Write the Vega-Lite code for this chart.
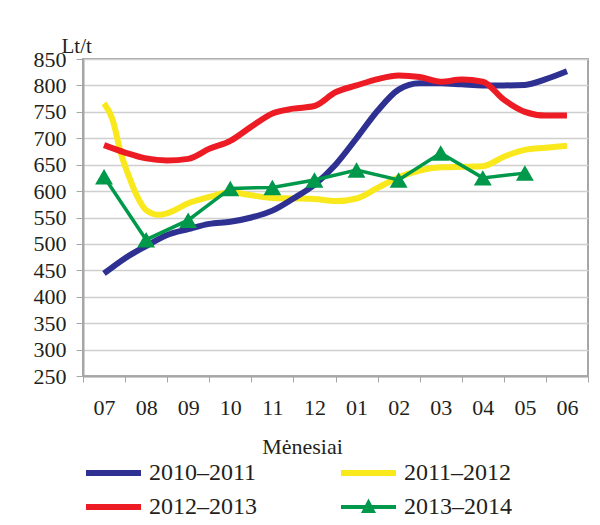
{
  "$schema": "https://vega.github.io/schema/vega-lite/v6.json",
  "width": 505,
  "height": 317,
  "autosize": {"type": "none"},
  "padding": {"left": 83, "top": 59, "right": 12, "bottom": 149},
  "background": "white",
  "config": {
    "font": "Liberation Serif",
    "view": {"stroke": "#a6a6a6", "strokeWidth": 2},
    "style": {"guide-label": {"font": "Liberation Serif"}, "guide-title": {"font": "Liberation Serif"}},
    "legend": {"labelFont": "Liberation Serif", "labelColor": "#231f20"}
  },
  "data": {"values": [
    {"s": "2010–2011", "m": 1, "v": 444}, {"s": "2010–2011", "m": 1.5, "v": 473}, {"s": "2010–2011", "m": 2, "v": 496}, {"s": "2010–2011", "m": 2.5, "v": 517},
    {"s": "2010–2011", "m": 3, "v": 528}, {"s": "2010–2011", "m": 3.5, "v": 538}, {"s": "2010–2011", "m": 4, "v": 542}, {"s": "2010–2011", "m": 4.5, "v": 550},
    {"s": "2010–2011", "m": 5, "v": 563}, {"s": "2010–2011", "m": 5.5, "v": 586}, {"s": "2010–2011", "m": 6, "v": 612}, {"s": "2010–2011", "m": 6.5, "v": 650},
    {"s": "2010–2011", "m": 7, "v": 700}, {"s": "2010–2011", "m": 7.5, "v": 752}, {"s": "2010–2011", "m": 8, "v": 792}, {"s": "2010–2011", "m": 8.5, "v": 804},
    {"s": "2010–2011", "m": 9, "v": 804}, {"s": "2010–2011", "m": 9.5, "v": 802}, {"s": "2010–2011", "m": 10, "v": 800}, {"s": "2010–2011", "m": 10.5, "v": 800},
    {"s": "2010–2011", "m": 11, "v": 801}, {"s": "2010–2011", "m": 11.5, "v": 812}, {"s": "2010–2011", "m": 12, "v": 827},
    {"s": "2011–2012", "m": 1, "v": 766}, {"s": "2011–2012", "m": 1.2, "v": 736}, {"s": "2011–2012", "m": 1.4, "v": 672}, {"s": "2011–2012", "m": 1.6, "v": 626},
    {"s": "2011–2012", "m": 1.8, "v": 588}, {"s": "2011–2012", "m": 2, "v": 564}, {"s": "2011–2012", "m": 2.3, "v": 555}, {"s": "2011–2012", "m": 2.6, "v": 561},
    {"s": "2011–2012", "m": 3, "v": 577}, {"s": "2011–2012", "m": 3.5, "v": 589}, {"s": "2011–2012", "m": 4, "v": 598}, {"s": "2011–2012", "m": 4.5, "v": 592},
    {"s": "2011–2012", "m": 5, "v": 587}, {"s": "2011–2012", "m": 5.5, "v": 586}, {"s": "2011–2012", "m": 6, "v": 585}, {"s": "2011–2012", "m": 6.5, "v": 581},
    {"s": "2011–2012", "m": 7, "v": 586}, {"s": "2011–2012", "m": 7.5, "v": 606}, {"s": "2011–2012", "m": 8, "v": 626}, {"s": "2011–2012", "m": 8.5, "v": 639},
    {"s": "2011–2012", "m": 9, "v": 645}, {"s": "2011–2012", "m": 9.5, "v": 646}, {"s": "2011–2012", "m": 10, "v": 647}, {"s": "2011–2012", "m": 10.5, "v": 665},
    {"s": "2011–2012", "m": 11, "v": 678}, {"s": "2011–2012", "m": 11.5, "v": 682}, {"s": "2011–2012", "m": 12, "v": 686},
    {"s": "2012–2013", "m": 1, "v": 687}, {"s": "2012–2013", "m": 1.5, "v": 673}, {"s": "2012–2013", "m": 2, "v": 662}, {"s": "2012–2013", "m": 2.5, "v": 658},
    {"s": "2012–2013", "m": 3, "v": 661}, {"s": "2012–2013", "m": 3.5, "v": 680}, {"s": "2012–2013", "m": 4, "v": 695}, {"s": "2012–2013", "m": 4.5, "v": 722},
    {"s": "2012–2013", "m": 5, "v": 747}, {"s": "2012–2013", "m": 5.5, "v": 756}, {"s": "2012–2013", "m": 6, "v": 761}, {"s": "2012–2013", "m": 6.5, "v": 787},
    {"s": "2012–2013", "m": 7, "v": 800}, {"s": "2012–2013", "m": 7.5, "v": 812}, {"s": "2012–2013", "m": 8, "v": 819}, {"s": "2012–2013", "m": 8.5, "v": 816},
    {"s": "2012–2013", "m": 9, "v": 807}, {"s": "2012–2013", "m": 9.5, "v": 811}, {"s": "2012–2013", "m": 10, "v": 807}, {"s": "2012–2013", "m": 10.5, "v": 773},
    {"s": "2012–2013", "m": 11, "v": 750}, {"s": "2012–2013", "m": 11.5, "v": 743}, {"s": "2012–2013", "m": 12, "v": 743},
    {"s": "2013–2014", "m": 1, "v": 627}, {"s": "2013–2014", "m": 2, "v": 508}, {"s": "2013–2014", "m": 3, "v": 545}, {"s": "2013–2014", "m": 4, "v": 605},
    {"s": "2013–2014", "m": 5, "v": 607}, {"s": "2013–2014", "m": 6, "v": 621}, {"s": "2013–2014", "m": 7, "v": 640}, {"s": "2013–2014", "m": 8, "v": 621},
    {"s": "2013–2014", "m": 9, "v": 672}, {"s": "2013–2014", "m": 10, "v": 625}, {"s": "2013–2014", "m": 11, "v": 634}
  ]},
  "encoding": {
    "x": {
      "field": "m", "type": "quantitative",
      "scale": {"domain": [0.5, 12.5], "nice": false, "zero": false},
      "axis": {
        "title": "Mėnesiai", "titleFont": "Liberation Serif", "titleFontWeight": "normal", "titleColor": "#231f20", "titleFontSize": 22,
        "titleAnchor": "start", "titleAlign": "center", "titleX": 219, "titleY": 77, "titleBaseline": "alphabetic",
        "values": [0.5, 1, 1.5, 2, 2.5, 3, 3.5, 4, 4.5, 5, 5.5, 6, 6.5, 7, 7.5, 8, 8.5, 9, 9.5, 10, 10.5, 11, 11.5, 12, 12.5],
        "labelExpr": "datum.value % 1 === 0 ? ['07','08','09','10','11','12','01','02','03','04','05','06'][datum.value - 1] : ''",
        "labelFont": "Liberation Serif", "labelColor": "#231f20", "labelFontSize": 22, "labelPadding": 15, "labelOverlap": false, "labelFlush": false,
        "grid": false, "domainColor": "#a6a6a6", "domainWidth": 2, "tickColor": "#a6a6a6", "tickSize": 6,
        "tickOpacity": {"condition": {"test": "datum.value % 1 === 0", "value": 0}, "value": 1}
      }
    },
    "y": {
      "field": "v", "type": "quantitative",
      "scale": {"domain": [250, 850], "nice": false, "zero": false},
      "axis": {
        "title": "Lt/t", "titleFont": "Liberation Serif", "titleFontWeight": "normal", "titleColor": "#231f20", "titleFontSize": 21,
        "titleAngle": 0, "titleAlign": "left", "titleBaseline": "alphabetic", "titleX": -22, "titleY": -7,
        "values": [250, 300, 350, 400, 450, 500, 550, 600, 650, 700, 750, 800, 850],
        "labelFont": "Liberation Serif", "labelColor": "#231f20", "labelFontSize": 22, "labelPadding": 10, "labelBaseline": "middle",
        "grid": true, "gridColor": "#cfcfcf", "gridWidth": 1.5,
        "domainColor": "#a6a6a6", "domainWidth": 2, "tickColor": "#a6a6a6", "tickSize": 7
      }
    },
    "color": {
      "field": "s", "type": "nominal",
      "scale": {"domain": ["2010–2011", "2011–2012", "2012–2013", "2013–2014"], "range": ["#2e3192", "#f9e81c", "#ed1c24", "#00984a"]},
      "legend": {
        "title": null, "orient": "none", "direction": "horizontal", "legendX": 1, "legendY": 402, "columns": 2, "columnPadding": 82, "rowPadding": 10,
        "padding": 0, "labelFont": "Liberation Serif", "labelFontSize": 24, "labelOffset": 41, "symbolSize": 400, "labelLimit": 300,
        "encode": {"symbols": {"update": {
          "shape": {"signal": "datum.value === '2013–2014' ? 'M-1,-0.2H4.5V0.2H-1Z M1.75,-0.85L2.5,0.6L1,0.6Z' : 'M-1,-0.3H4.5V0.3H-1Z'"},
          "fill": {"signal": "scale('color', datum.value)"},
          "fillOpacity": {"value": 1},
          "strokeWidth": {"value": 0},
          "opacity": {"value": 1}
        }}}
      }
    }
  },
  "layer": [
    {"transform": [{"filter": "datum.s === '2011–2012'"}], "mark": {"type": "line", "interpolate": "monotone", "strokeWidth": 6}},
    {"transform": [{"filter": "datum.s === '2010–2011'"}], "mark": {"type": "line", "interpolate": "monotone", "strokeWidth": 6}},
    {"transform": [{"filter": "datum.s === '2012–2013'"}], "mark": {"type": "line", "interpolate": "monotone", "strokeWidth": 6}},
    {"transform": [{"filter": "datum.s === '2013–2014'"}], "mark": {"type": "line", "interpolate": "linear", "strokeWidth": 3.5}},
    {"transform": [{"filter": "datum.s === '2013–2014'"}], "mark": {"type": "point", "shape": "triangle-up", "filled": true, "opacity": 1, "size": 320}}
  ]
}
